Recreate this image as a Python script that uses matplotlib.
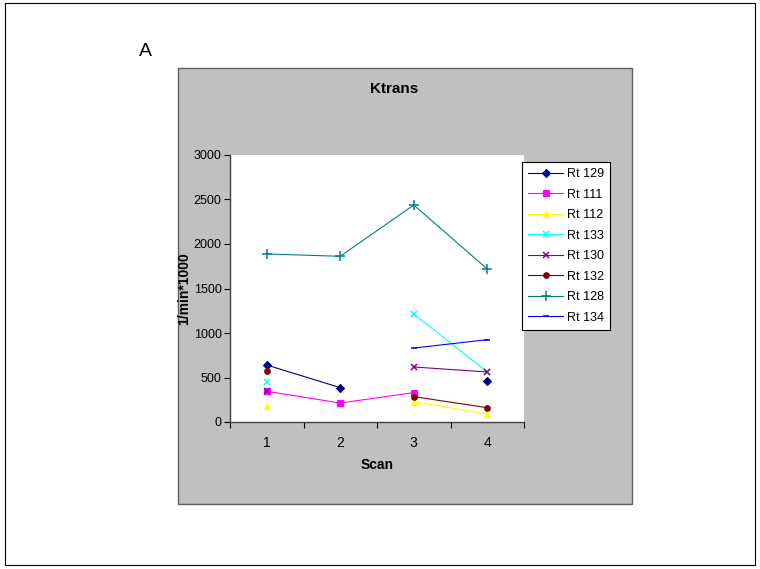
import numpy as np
import matplotlib
matplotlib.use("Agg")
import matplotlib.pyplot as plt
from matplotlib.patches import Rectangle

plt.rcParams['font.family'] = ['Liberation Sans', 'DejaVu Sans']

scans = [1, 2, 3, 4]
nan = np.nan
series_names = ["Rt 129", "Rt 111", "Rt 112", "Rt 133", "Rt 130", "Rt 132", "Rt 128", "Rt 134"]
rt129 = [640, 386, nan, 461]
rt111 = [345, 213, 330, nan]
rt112 = [180, nan, 229, 90]
rt133 = [453, nan, 1213, 565]
rt130 = [352, nan, 618, 562]
rt132 = [573, nan, 285, 161]
rt128 = [1888, 1862, 2438, 1719]
rt134 = [nan, nan, 831, 925]
series_values = [rt129, rt111, rt112, rt133, rt130, rt132, rt128, rt134]
colors = ["#000080", "#FF00FF", "#FFFF00", "#00FFFF", "#800080", "#800000", "#008080", "#0000FF"]
markers = ["D", "s", "^", "x", "x", "o", "+", "_"]
msizes = [4, 4, 5, 5, 5, 4, 7, 4]
yticks = [0, 500, 1000, 1500, 2000, 2500, 3000]

fig = plt.figure(figsize=(7.6, 5.69), dpi=100)
fig.patch.set_facecolor("white")
W, H = 760, 569

def fx(x): return x / W
def fy(y): return 1 - y / H

# outer border
fig.add_artist(Rectangle((fx(5), fy(565)), fx(755) - fx(5), fy(3) - fy(565),
                         transform=fig.transFigure, fill=False, edgecolor="black", lw=0.8, zorder=-10))
# gray chart area
fig.add_artist(Rectangle((fx(178), fy(504)), fx(632) - fx(178), fy(68) - fy(504),
                         transform=fig.transFigure, facecolor="#C0C0C0", edgecolor="#606060", lw=1.0, zorder=-9))

ax = fig.add_axes([fx(230), fy(422), fx(524) - fx(230), fy(155) - fy(422)])
ax.set_zorder(1)
ax.set_facecolor("white")
x = np.array(scans, dtype=float)
for name, vals, c, m, ms in zip(series_names, series_values, colors, markers, msizes):
    ax.plot(x, vals, color=c, marker=m, markersize=ms, lw=0.8, label=name,
            markeredgewidth=1.1 if m in ("x", "+", "_") else 0.8)

ax.set_xlim(0.5, 4.5)
ax.set_ylim(0, 3000)
ax.set_yticks(yticks)
ax.set_yticklabels([str(v) for v in yticks], fontsize=9)
ax.set_xticks([0.5, 1.5, 2.5, 3.5, 4.5])
ax.set_xticklabels([])
ax.set_xticks(scans, minor=True)
ax.set_xticklabels([str(s) for s in scans], minor=True, fontsize=10)
ax.tick_params(axis="x", which="minor", length=0, pad=10)
ax.tick_params(axis="x", which="major", length=4, direction="out")
ax.tick_params(axis="y", length=4, direction="out", pad=2)
for s in ["top", "right"]:
    ax.spines[s].set_visible(False)
for s in ["left", "bottom"]:
    ax.spines[s].set_color("#404040")
    ax.spines[s].set_linewidth(1.0)

ax.set_xlabel("Scan", fontsize=10, fontweight="bold", labelpad=6)
ax.set_ylabel("1/min*1000", fontsize=10, fontweight="bold", labelpad=2)

fig.text(fx(394), fy(89), "Ktrans", ha="center", va="center", fontsize=11, fontweight="bold")
fig.text(fx(145), fy(52), "A", ha="center", va="center", fontsize=14)

leg = ax.legend(loc="upper left", bbox_to_anchor=(0.993, 0.974), fontsize=9,
                frameon=True, fancybox=False, edgecolor="black", framealpha=1,
                handlelength=2.8, labelspacing=0.68, borderpad=0.5, handletextpad=0.3,
                borderaxespad=0)
leg.get_frame().set_linewidth(0.8)

fig.savefig("out.png", dpi=100)
